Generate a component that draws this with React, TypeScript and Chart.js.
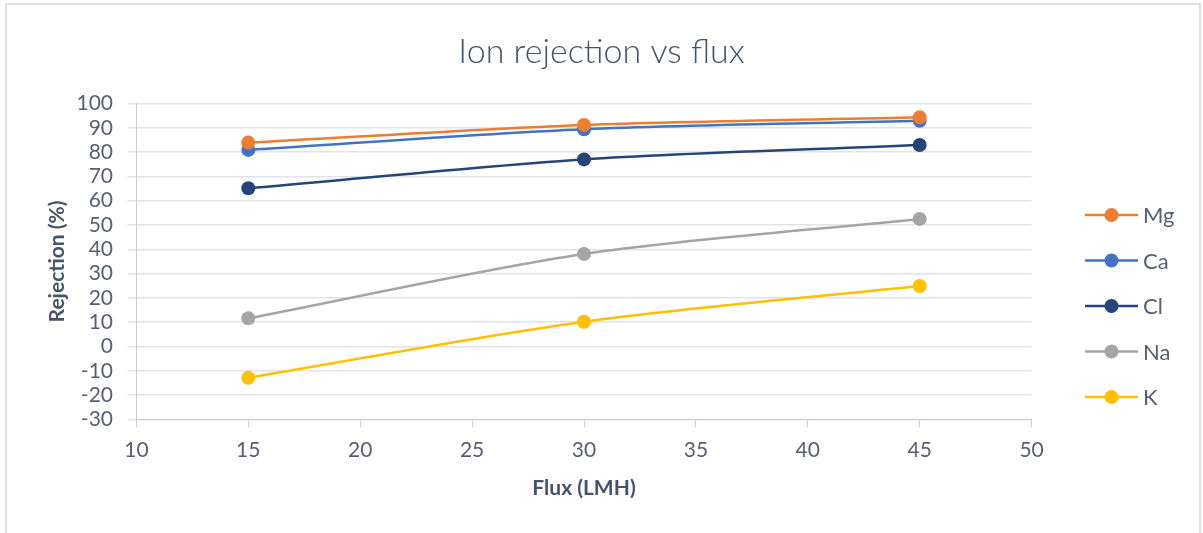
import React, { useEffect, useRef } from "react";
import { Chart, registerables } from "chart.js";

Chart.register(...registerables);

// ---- data ----
const fluxValues = [15, 30, 45];
const ionNames = ["Mg", "Ca", "Cl", "Na", "K"];
const mgRejection = [83.9, 91.2, 94.3];
const caRejection = [80.9, 89.4, 92.9];
const clRejection = [65.1, 77.0, 82.9];
const naRejection = [11.6, 38.1, 52.5];
const kRejection = [-12.9, 10.2, 24.9];
const seriesColors = ["#ED7D31", "#4472C4", "#264478", "#A5A5A5", "#FFC000"];
const xMin = 10;
const xMax = 50;
const xStep = 5;
const yMin = -30;
const yMax = 100;
const yStep = 10;

const chartTitle = "Ion rejection vs flux";
const xTitle = "Flux (LMH)";
const yTitle = "Rejection (%)";

const allSeries = [mgRejection, caRejection, clRejection, naRejection, kRejection];

const W = 1203;
const H = 533;
const FONT = "Lato, 'Open Sans', 'Noto Sans', sans-serif";
const TEXT = "#595f70";
const TITLE = "#44546A";
const AXIS = "#c5ccd8";
const GRID = "#e0e3ea";

const framePlugin = {
  id: "frame",
  beforeDraw(chart: any) {
    const ctx = chart.ctx;
    ctx.save();
    ctx.fillStyle = "#ffffff";
    ctx.fillRect(0, 0, chart.width, chart.height);
    ctx.strokeStyle = "#dde1e8";
    ctx.lineWidth = 2;
    ctx.strokeRect(6, 4, 1194, 560);
    ctx.restore();
  },
};

const titlePlugin = {
  id: "centerTitle",
  afterDraw(chart: any) {
    const ctx = chart.ctx;
    ctx.save();
    ctx.fillStyle = TITLE;
    ctx.font = `300 34px ${FONT}`;
    ctx.textAlign = "center";
    ctx.textBaseline = "middle";
    ctx.fillText(chartTitle, chart.width / 2, 52);
    ctx.restore();
  },
};

const legendPlugin = {
  id: "sideLegend",
  afterDraw(chart: any) {
    const ctx = chart.ctx;
    ctx.save();
    chart.data.datasets.forEach((ds: any, i: number) => {
      const y = 215 + i * 45.5;
      ctx.strokeStyle = ds.borderColor;
      ctx.lineWidth = 2.5;
      ctx.beginPath();
      ctx.moveTo(1085, y);
      ctx.lineTo(1138, y);
      ctx.stroke();
      ctx.fillStyle = ds.backgroundColor;
      ctx.beginPath();
      ctx.arc(1111.5, y, 7, 0, Math.PI * 2);
      ctx.fill();
      ctx.fillStyle = TEXT;
      ctx.font = `22px ${FONT}`;
      ctx.textBaseline = "middle";
      ctx.textAlign = "left";
      ctx.fillText(ds.label, 1143, y + 1);
    });
    ctx.restore();
  },
};

export default function App() {
  const ref = useRef<HTMLCanvasElement | null>(null);

  useEffect(() => {
    if (!ref.current) return;
    const datasets = ionNames.map((name, i) => ({
      label: name,
      data: fluxValues.map((x, j) => ({ x, y: allSeries[i][j] })),
      borderColor: seriesColors[i],
      backgroundColor: seriesColors[i],
      pointBackgroundColor: seriesColors[i],
      pointBorderColor: seriesColors[i],
      pointBorderWidth: 0,
      pointRadius: 7,
      borderWidth: 2.5,
      tension: 0.3,
      fill: false,
    }));
    const chart = new Chart(ref.current, {
      type: "line",
      data: { datasets },
      plugins: [framePlugin, titlePlugin, legendPlugin],
      options: {
        responsive: false,
        animation: false,
        devicePixelRatio: 1,
        layout: { padding: { left: 10, right: 171.4, top: 103.5, bottom: 0 } },
        plugins: {
          legend: { display: false },
          tooltip: { enabled: false },
          title: { display: false },
        },
        scales: {
          x: {
            type: "linear",
            min: xMin,
            max: xMax,
            ticks: {
              stepSize: xStep,
              padding: 10,
              color: TEXT,
              font: { family: FONT, size: 21 },
              maxRotation: 0,
              autoSkip: false,
            },
            grid: {
              drawOnChartArea: false,
              drawTicks: true,
              tickLength: 8,
              color: AXIS,
            },
            border: { color: AXIS, width: 1 },
            title: {
              display: true,
              text: xTitle,
              color: TITLE,
              font: { family: FONT, size: 21, weight: "bold" },
              padding: { top: 32.5, bottom: 32.5 },
            },
            afterFit: (s: any) => {
              s.height = 113.6;
            },
          },
          y: {
            type: "linear",
            min: yMin,
            max: yMax,
            ticks: {
              stepSize: yStep,
              padding: 14.4,
              color: TEXT,
              font: { family: FONT, size: 21 },
              autoSkip: false,
            },
            grid: {
              color: GRID,
              drawTicks: true,
              tickLength: 9,
              lineWidth: 1.5,
            },
            border: { color: AXIS, width: 1 },
            title: {
              display: true,
              text: yTitle,
              color: TITLE,
              font: { family: FONT, size: 21, weight: "bold" },
              padding: { top: 34.4, bottom: 34.4 },
            },
            afterFit: (s: any) => {
              s.width = 126.4;
            },
          },
        },
      } as any,
    });
    return () => chart.destroy();
  }, []);

  return (
    <div style={{ position: "absolute", left: 0, top: 0, width: W, height: H }}>
      <canvas ref={ref} width={W} height={H} style={{ display: "block" }} />
    </div>
  );
}
